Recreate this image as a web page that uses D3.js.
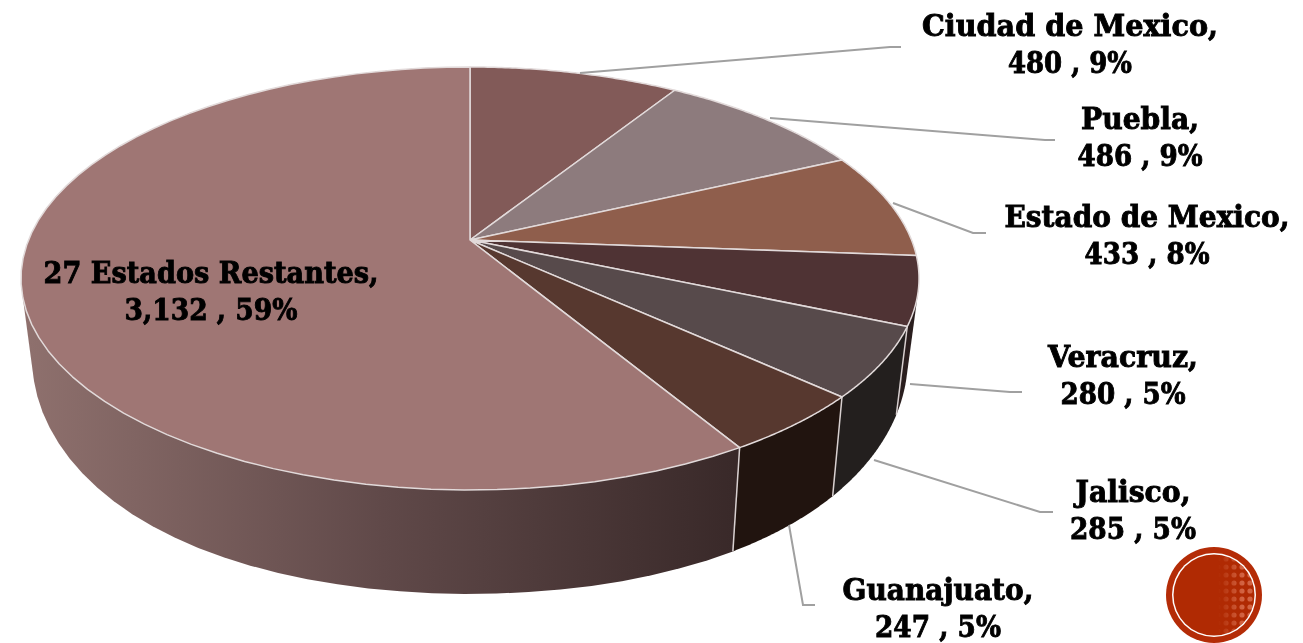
<!DOCTYPE html>
<html>
<head>
<meta charset="utf-8">
<script src="https://cdn.jsdelivr.net/npm/d3@7"></script>
<style>
  html, body { margin: 0; padding: 0; background: #fff; overflow: hidden; }
  text { font-family: "DejaVu Serif", serif; font-weight: 700; fill: #000; stroke: #000; stroke-width: 0.9px; }
  #chart { filter: blur(0.45px); }
</style>
</head>
<body>
<svg id="svgContent" width="1303" height="643"></svg>
<script>
const names = ['Ciudad de Mexico', 'Puebla', 'Estado de Mexico', 'Veracruz', 'Jalisco', 'Guanajuato', '27 Estados Restantes'];
const values = [480, 486, 433, 280, 285, 247, 3132];
const topColors = ['#825a58', '#8d7b7d', '#8f5e4c', '#4f3334', '#574a4b', '#57382f', '#9f7674'];
const wallColors = ['#5a3f3d', '#625657', '#643f33', '#2a1e1e', '#231f1e', '#21140f', 'url(#wallFade)'];

// label placement: centre x, first baseline, width of each line
const labelX = [1070, 1140, 1147, 1123, 1133, 938, 211];
const labelY = [36, 129, 227, 367, 502, 600, 283];
const nameW = [296, 118, 285, 150, 115, 191, 335];
const valueW = [124, 125, 125, 125, 126, 126, 173];

// leader lines, the last one per label is the short flat end
const leaders = [
    [[580, 73], [890, 47], [901, 47]],
    [[770, 118], [1045, 140], [1055, 140]],
    [[893, 203], [973, 233], [986, 233]],
    [[910, 384], [1010, 392], [1022, 392]],
    [[874, 460], [1040, 512], [1053, 512]],
    [[789, 525], [803, 605], [815, 605]]
];

const svg = d3.select('#svgContent');
const chart = svg.append('g').attr('id', 'chart');
const total = d3.sum(values);
const fmt = d3.format(',');
const pct = d3.format('.0%');

// the tilted disc is a circle under perspective, apex is not the ellipse centre
const cx = 470, cy = 240, rx = 441.5, ry = 204.5, persp = 0.182;
function rimTop(a) {
    const u = Math.sin(a), v = -Math.cos(a), d = 1 - persp * v;
    return [cx + rx * u / d, cy + ry * v / d];
}
function rimBottom(a) {
    const p = rimTop(a);
    const bulge = 6 * Math.sin(2 * a) * Math.sin(2 * a);
    return [cx + (p[0] - cx) * 0.975, 47.6 + 1.115 * p[1] + bulge];
}
function arcPoints(fn, a0, a1) {
    return d3.range(0, 61).map(i => fn(a0 + (a1 - a0) * i / 60));
}

const pie = d3.pie().sort(null).value(d => d)(values);
const line = d3.line();

const defs = svg.append('defs');
const wallScale = d3.scaleLinear().domain([0, 0.5, 1]).range(['#8e706d', '#604949', '#392929']);
const fade = defs.append('linearGradient')
    .attr('id', 'wallFade')
    .attr('gradientUnits', 'userSpaceOnUse')
    .attr('x1', 30).attr('x2', 735).attr('y1', 0).attr('y2', 0);
[0, 0.5, 1].forEach(t => fade.append('stop').attr('offset', t).attr('stop-color', wallScale(t)));

// walls first, top face hides the back ones
// hull so the side silhouette runs straight from top rim to bottom rim
chart.append('g')
    .selectAll('path')
    .data(pie)
    .enter()
    .append('path')
    .attr('d', d => line(d3.polygonHull(arcPoints(rimTop, d.startAngle, d.endAngle)
        .concat(arcPoints(rimBottom, d.startAngle, d.endAngle)))) + 'Z')
    .attr('fill', (d, i) => wallColors[i]);

// white seams on the wall
chart.append('g')
    .selectAll('line')
    .data(pie.slice(3))
    .enter()
    .append('line')
    .attr('x1', d => rimTop(d.endAngle)[0])
    .attr('y1', d => rimTop(d.endAngle)[1])
    .attr('x2', d => rimBottom(d.endAngle)[0])
    .attr('y2', d => rimBottom(d.endAngle)[1])
    .attr('stroke', '#d8d0d0')
    .attr('stroke-width', 1.5);

chart.append('g')
    .selectAll('path')
    .data(pie)
    .enter()
    .append('path')
    .attr('d', d => line([[cx, cy]].concat(arcPoints(rimTop, d.startAngle, d.endAngle))) + 'Z')
    .attr('fill', (d, i) => topColors[i])
    .attr('stroke', '#e2dada')
    .attr('stroke-width', 1.5)
    .attr('stroke-linejoin', 'round');

chart.append('g')
    .selectAll('path')
    .data(leaders)
    .enter()
    .append('path')
    .attr('d', d => line(d))
    .attr('fill', 'none')
    .attr('stroke', '#a0a0a0')
    .attr('stroke-width', 2);

const labels = chart.append('g')
    .selectAll('text')
    .data(pie)
    .enter()
    .append('text')
    .attr('text-anchor', 'middle')
    .attr('font-size', 29);

labels.append('tspan')
    .attr('x', (d, i) => labelX[i])
    .attr('y', (d, i) => labelY[i])
    .attr('textLength', (d, i) => nameW[i])
    .attr('lengthAdjust', 'spacingAndGlyphs')
    .text((d, i) => names[i] + ',');

labels.append('tspan')
    .attr('x', (d, i) => labelX[i])
    .attr('y', (d, i) => labelY[i] + 37)
    .attr('textLength', (d, i) => valueW[i])
    .attr('lengthAdjust', 'spacingAndGlyphs')
    .text(d => fmt(d.value) + ' , ' + pct(d.value / total));

// slide badge, bottom right
const dots = defs.append('pattern')
    .attr('id', 'dots')
    .attr('patternUnits', 'userSpaceOnUse')
    .attr('width', 8).attr('height', 8);
dots.append('circle').attr('cx', 4).attr('cy', 4).attr('r', 2.6).attr('fill', '#e98a6c');
const maskFade = defs.append('linearGradient').attr('id', 'maskFade');
maskFade.append('stop').attr('offset', 0.55).attr('stop-color', '#000');
maskFade.append('stop').attr('offset', 0.85).attr('stop-color', '#999');
defs.append('mask').attr('id', 'dotMask')
    .attr('maskContentUnits', 'objectBoundingBox')
    .append('rect').attr('width', 1).attr('height', 1).attr('fill', 'url(#maskFade)');

const badge = chart.append('g').attr('transform', 'translate(1214,595)');
badge.append('circle').attr('r', 48).attr('fill', '#b42c07');
badge.append('circle').attr('r', 42).attr('fill', '#fff');
badge.append('circle').attr('r', 40.5).attr('fill', '#b02a03');
badge.append('circle').attr('r', 40.5).attr('fill', 'url(#dots)').attr('mask', 'url(#dotMask)');
</script>
</body>
</html>
